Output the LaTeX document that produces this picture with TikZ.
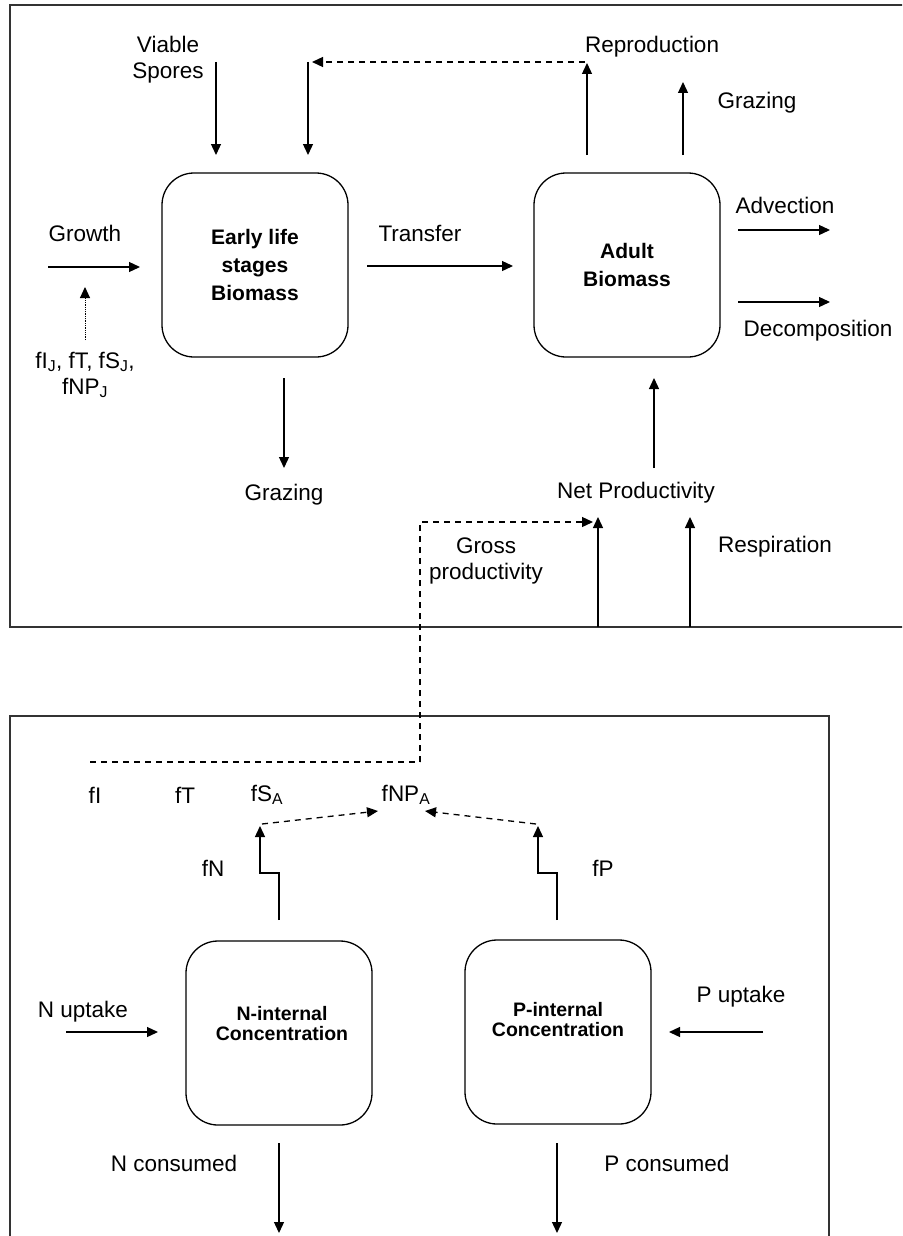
\documentclass[tikz,border=0pt]{standalone}
\usepackage{fontspec}
\setmainfont{Liberation Sans}
\usetikzlibrary{arrows.meta}
\begin{document}
\begin{tikzpicture}[x=1pt,y=-1pt,
  lbl/.style={font=\fontsize{22.5}{26}\selectfont, inner sep=0pt, align=center},
  pool/.style={draw, line width=1.3pt, rounded corners=32pt, minimum width=186pt, minimum height=184pt, inner sep=0pt, align=center, font=\bfseries\fontsize{21}{28}\selectfont},
  pooltxt/.style={inner sep=0pt, align=center, font=\bfseries\fontsize{19.5}{20}\selectfont},
  flow/.style={line width=1.3pt, -{Triangle[length=11pt,width=10pt]}},
  dflow/.style={flow, dash pattern=on 6pt off 5pt},
  dline/.style={line width=1.3pt, dash pattern=on 6pt off 5pt},
  frame/.style={line width=2.2pt, draw=black!80}]
\useasboundingbox (0,0) rectangle (902,1236);
\clip (0,0) rectangle (902,1236);
% frames
\draw[frame] (910,5) -- (10,5) -- (10,627) -- (910,627);
\draw[frame] (10,1245) -- (10,716) -- (829,716) -- (829,1245);

% pools
\node[pool] (early) at (255,265) {Early life\\stages\\Biomass};
\node[pool] (adult) at (627,265) {Adult\\Biomass};
\node[pool] (nint) at (279,1033) {};
\node[pool] (pint) at (558,1032) {};
\node[pooltxt] (ntxt) at (282,1024) {N-internal\\Concentration};
\node[pooltxt] (ptxt) at (558,1020) {P-internal\\Concentration};

% labels top
\node[lbl] (viable) at (168,60) {Viable\\Spores};
\node[lbl, anchor=west] (repro) at (585,47) {Reproduction};
\node[lbl] (graz1) at (757,103) {Grazing};
\node[lbl] (growth) at (85,233) {Growth};
\node[lbl] (transfer) at (420,233) {Transfer};
\node[lbl] (advect) at (785,205) {Advection};
\node[lbl] (decomp) at (818,331) {Decomposition};
\node[lbl] (fJ) at (85,375) {fI\textsubscript{J}, fT, fS\textsubscript{J},\\fNP\textsubscript{J}};
\node[lbl] (graz2) at (284,495) {Grazing};
\node[lbl] (netp) at (636,493) {Net Productivity};
\node[lbl] (gross) at (486,561) {Gross\\productivity};
\node[lbl] (resp) at (775,547) {Respiration};

% labels bottom
\node[lbl] (fI) at (95,795) {fI};
\node[lbl] (fT) at (185,795) {fT};
\node[lbl] (fSA) at (267,795) {fS\textsubscript{A}};
\node[lbl] (fNPA) at (406,795) {fNP\textsubscript{A}};
\node[lbl] (fN) at (213,868) {fN};
\node[lbl] (fP) at (603,868) {fP};
\node[lbl] (nup) at (83,1012) {N uptake};
\node[lbl] (pup) at (741,997) {P uptake};
\node[lbl] (ncons) at (174,1163) {N consumed};
\node[lbl] (pcons) at (667,1163) {P consumed};

% coordinates
\coordinate (vsT) at (216,62);   \coordinate (vsB) at (216,155);
\coordinate (rpT) at (308,62);   \coordinate (rpB) at (308,155);
\coordinate (rpD) at (312,62);   \coordinate (rpS) at (585,62);
\coordinate (reB) at (587,155);  \coordinate (reT) at (587,63);
\coordinate (gzB) at (683,155);  \coordinate (gzT) at (683,82);
\coordinate (grL) at (48,267);   \coordinate (grR) at (140,267);
\coordinate (fjB) at (85,340);   \coordinate (fjT) at (85,287);
\coordinate (trL) at (367,266);  \coordinate (trR) at (513,266);
\coordinate (adL) at (738,230);  \coordinate (adR) at (830,230);
\coordinate (dcL) at (738,302);  \coordinate (dcR) at (830,302);
\coordinate (g2T) at (284,378);  \coordinate (g2B) at (284,468);
\coordinate (npB) at (654,468);  \coordinate (npT) at (654,378);
\coordinate (gpB) at (598,627);  \coordinate (gpT) at (598,517);
\coordinate (rsB) at (690,627);  \coordinate (rsT) at (690,517);
\coordinate (dsL) at (90,762);   \coordinate (dsC) at (420,762);
\coordinate (dsU) at (420,522);  \coordinate (dsE) at (593,522);
\coordinate (fnS) at (279,920);  \coordinate (fnT) at (260,826);
\coordinate (fpS) at (557,920);  \coordinate (fpT) at (538,826);
\coordinate (fnD) at (378,811);  \coordinate (fpD) at (425,811);
\coordinate (nuL) at (66,1032);  \coordinate (nuR) at (158,1032);
\coordinate (puR) at (763,1032); \coordinate (puL) at (669,1032);
\coordinate (ncT) at (279,1143); \coordinate (ncB) at (279,1233);
\coordinate (pcT) at (557,1143); \coordinate (pcB) at (557,1233);

% connectors top
\draw[flow] (vsT) -- (vsB);
\draw[flow] (rpT) -- (rpB);
\draw[dflow] (rpS) -- (rpD);
\draw[flow] (reB) -- (reT);
\draw[flow] (gzB) -- (gzT);
\draw[flow] (grL) -- (grR);
\draw[flow, densely dotted, line width=1pt] (fjB) -- (fjT);
\draw[flow] (trL) -- (trR);
\draw[flow] (adL) -- (adR);
\draw[flow] (dcL) -- (dcR);
\draw[flow] (g2T) -- (g2B);
\draw[flow] (npB) -- (npT);
\draw[flow] (gpB) -- (gpT);
\draw[flow] (rsB) -- (rsT);
\draw[dline] (dsL) -- (dsC);
\draw[dflow] (dsC) -- (dsU) -- (dsE);

% connectors bottom
\draw[flow] (fnS) -- ++(0,-47) -| (fnT);
\draw[flow] (fpS) -- ++(0,-47) -| (fpT);
\draw[dflow] (fnT) ++(2,-2) -- (fnD);
\draw[dflow] (fpT) ++(-2,-2) -- (fpD);
\draw[flow] (nuL) -- (nuR);
\draw[flow] (puR) -- (puL);
\draw[flow] (ncT) -- (ncB);
\draw[flow] (pcT) -- (pcB);
\end{tikzpicture}
\end{document}
